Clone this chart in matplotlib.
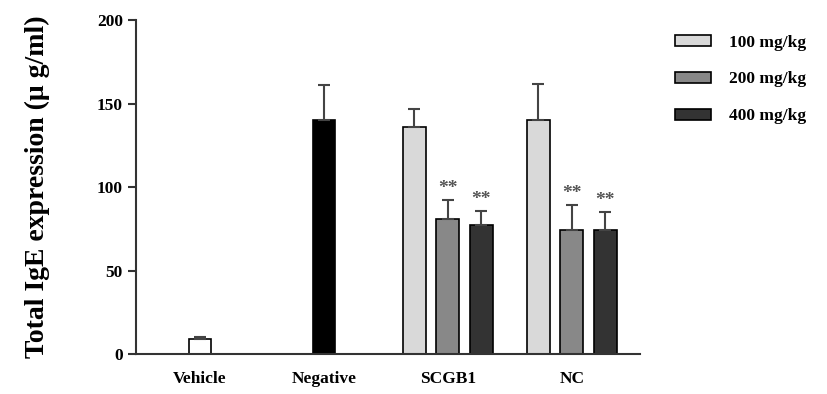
import numpy as np
import matplotlib
matplotlib.use("Agg")
import matplotlib.pyplot as plt
from matplotlib.patches import Patch

plt.rcParams['font.family'] = ['Liberation Serif', 'DejaVu Serif']
plt.rcParams['font.weight'] = 'bold'
plt.rcParams['axes.labelweight'] = 'bold'

# group labels on the x axis
groups = ["Vehicle", "Negative", "SCGB1", "NC"]

# control groups (single bar each)
control_values = [9, 140]
control_errors = [1, 21]
control_colors = ["white", "black"]

# dose groups
doses = ["100 mg/kg", "200 mg/kg", "400 mg/kg"]
dose_colors = ["#d9d9d9", "#888888", "#333333"]
scgb1_values = [136, 81, 77]
scgb1_errors = [11, 11, 8.5]
nc_values = [140, 74, 74]
nc_errors = [22, 15, 11]
# which dose bars get the "**" mark
scgb1_sig = [False, True, True]
nc_sig = [False, True, True]

fig = plt.figure(figsize=(8.27, 3.94), dpi=100)
axis = fig.add_axes([0.1645, 0.1015, 0.6095, 0.8475])

WIDTH = 0.185
OFFSET = 0.27
err_kw = dict(ecolor="#444444", elinewidth=1.5, capsize=4, capthick=1.5)

x = np.arange(len(groups))
for i in range(len(control_values)):
    axis.bar(x[i], control_values[i], WIDTH, color=control_colors[i],
             edgecolor="black", linewidth=1.2,
             yerr=[[0], [control_errors[i]]], error_kw=err_kw)

for gx, vals, errs, sig in [(x[2], scgb1_values, scgb1_errors, scgb1_sig),
                            (x[3], nc_values, nc_errors, nc_sig)]:
    for k in range(len(doses)):
        pos = gx + (k - 1) * OFFSET
        axis.bar(pos, vals[k], WIDTH, color=dose_colors[k],
                 edgecolor="black", linewidth=1.2,
                 yerr=[[0], [errs[k]]], error_kw=err_kw)
        if sig[k]:
            axis.text(pos, vals[k] + errs[k] + 2, "**", ha="center", va="bottom",
                      fontsize=14, color="#555555")

axis.set_xlim(-0.516, 3.55)
axis.set_ylim(0, 200)
axis.set_yticks([0, 50, 100, 150, 200])
axis.set_xticks(x)
axis.set_xticklabels(groups)
axis.tick_params(axis="x", length=0, pad=12, labelsize=12.5)
axis.tick_params(axis="y", length=6, width=1.5, labelsize=12.5, color="#333333")
for s in ["top", "right"]:
    axis.spines[s].set_visible(False)
for s in ["left", "bottom"]:
    axis.spines[s].set_linewidth(1.5)
    axis.spines[s].set_color("#333333")
axis.set_ylabel("Total IgE expression (\u03bc g/ml)", fontsize=20, labelpad=34)

handles = [Patch(facecolor=c, edgecolor="black", linewidth=1.2) for c in dose_colors]
fig.legend(handles, doses, loc="upper left", bbox_to_anchor=(0.797, 0.952),
           frameon=False, fontsize=12.5, handlelength=2.1, handleheight=0.6,
           labelspacing=1.2, handletextpad=1.0)

fig.savefig("out.png", dpi=100)
